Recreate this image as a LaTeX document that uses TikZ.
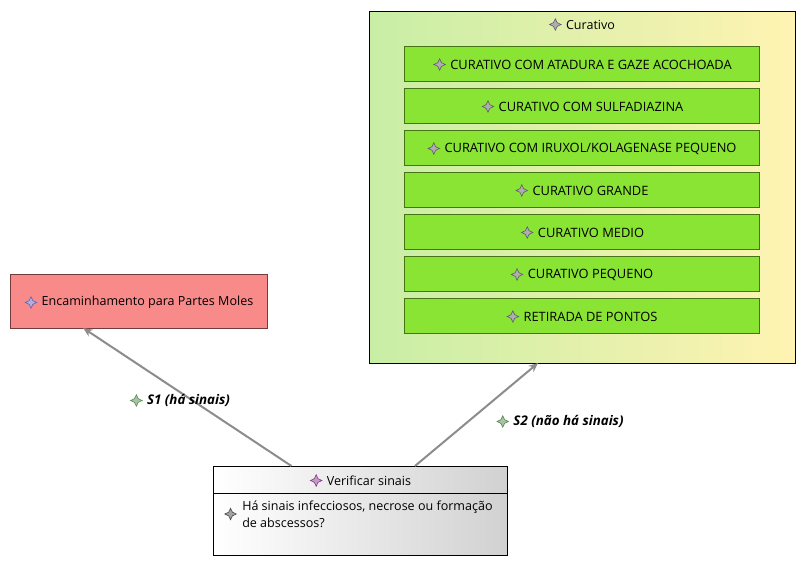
\documentclass[tikz,border=0pt]{standalone}
\usepackage{fontspec}
\setmainfont{Open Sans}
\usetikzlibrary{positioning,shapes.geometric,shadows,calc,arrows.meta}
\def\px{0.75pt}
\definecolor{itemgreen}{RGB}{138,228,52}
\definecolor{itemedge}{RGB}{70,115,20}
\definecolor{cureleft}{RGB}{200,238,165}
\definecolor{cureright}{RGB}{255,243,178}
\definecolor{redfill}{RGB}{248,138,138}
\definecolor{rededge}{RGB}{115,60,60}
\definecolor{arrowgray}{RGB}{140,140,140}
\definecolor{icongray}{RGB}{95,90,105}
\definecolor{iconblue}{RGB}{95,95,190}
\definecolor{iconviolet}{RGB}{135,55,135}
\definecolor{icondark}{RGB}{70,70,70}
\definecolor{icongreen}{RGB}{85,135,80}
\begin{document}
\begin{tikzpicture}[
    x=\px, y=-\px,
    mybox/.style={rectangle, draw, line width=1*\px, inner sep=0pt, outer sep=0pt,
        drop shadow={shadow xshift=1*\px, shadow yshift=-1.2*\px, fill=black!55, opacity=1}},
    myitem/.style={mybox, draw=itemedge, fill=itemgreen, minimum width=355*\px, minimum height=35*\px,
        drop shadow={shadow xshift=1*\px, shadow yshift=-1.2*\px, fill=itemedge, opacity=1}},
    mylabel/.style={font=\fontsize{9.4pt}{12.75pt}\selectfont, inner sep=0pt, align=left},
    mycaps/.style={font=\fontsize{9.65pt}{12.75pt}\selectfont, inner sep=0pt},
    myedgelabel/.style={inner sep=0pt, font=\fontsize{10pt}{12pt}\selectfont\bfseries\itshape},
    myicon/.style={star, star points=4, star point ratio=2.2, minimum size=11.5*\px, inner sep=0pt,
        draw=#1, fill=#1!50!white, line width=0.6*\px},
    myedge/.style={-{Stealth[length=7pt,width=6pt]}, draw=arrowgray, line width=2*\px}
]
    \useasboundingbox (0,0) rectangle (807,568);

    % Outer group with its items
    \node[mybox, left color=cureleft, right color=cureright, minimum width=426*\px, minimum height=352*\px] (Curativo) at (582,187) {};
    \node[myitem] (Item1) at (581.5,63.5) {};
    \node[myitem] (Item2) at (581.5,105.5) {};
    \node[myitem] (Item3) at (581.5,147.5) {};
    \node[myitem] (Item4) at (581.5,189.5) {};
    \node[myitem] (Item5) at (581.5,231.5) {};
    \node[myitem] (Item6) at (581.5,273.5) {};
    \node[myitem] (Item7) at (581.5,315.5) {};

    \node[mylabel] (CurativoText) at (590.5,24.5) {Curativo};
    \node[mycaps] (Text1) at (591,64.5) {CURATIVO COM ATADURA E GAZE ACOCHOADA};
    \node[mycaps] (Text2) at (591,106.5) {CURATIVO COM SULFADIAZINA};
    \node[mycaps] (Text3) at (590.5,148.5) {CURATIVO COM IRUXOL/KOLAGENASE PEQUENO};
    \node[mycaps] (Text4) at (590.5,190.5) {CURATIVO GRANDE};
    \node[mycaps] (Text5) at (591,232.5) {CURATIVO MEDIO};
    \node[mycaps] (Text6) at (590.5,274.5) {CURATIVO PEQUENO};
    \node[mycaps] (Text7) at (590.5,316.5) {RETIRADA DE PONTOS};

    \node[myicon=icongray, left=4*\px of CurativoText] (IconCurativo) {};
    \node[myicon=icongray, left=4*\px of Text1] (Icon1) {};
    \node[myicon=icongray, left=4*\px of Text2] (Icon2) {};
    \node[myicon=icongray, left=4*\px of Text3] (Icon3) {};
    \node[myicon=icongray, left=4*\px of Text4] (Icon4) {};
    \node[myicon=icongray, left=4*\px of Text5] (Icon5) {};
    \node[myicon=icongray, left=4*\px of Text6] (Icon6) {};
    \node[myicon=icongray, left=4*\px of Text7] (Icon7) {};

    % Left target
    \node[mybox, draw=rededge, fill=redfill, minimum width=257*\px, minimum height=54*\px,
        drop shadow={shadow xshift=1*\px, shadow yshift=-1.2*\px, fill=rededge, opacity=1}] (Encaminhamento) at (138.5,301) {};
    \node[mylabel] (EncaminhamentoText) at (147.5,302.5) {Encaminhamento para Partes Moles};
    \node[myicon=iconblue, left=4*\px of EncaminhamentoText] (IconEncaminhamento) {};

    % Decision box
    \node[mybox, left color=white, right color=black!18, minimum width=294*\px, minimum height=89*\px] (Verificar) at (360,510.5) {};
    \draw[line width=1*\px] ($(Verificar.north west)+(0,27)$) -- ($(Verificar.north east)+(0,27)$);
    \node[mylabel] (VerificarText) at (369,480.5) {Verificar sinais};
    \node[myicon=iconviolet, left=4*\px of VerificarText] (IconVerificar) {};
    \node[mylabel, anchor=west] (Pergunta) at (242,514) {Há sinais infecciosos, necrose ou formação\\de abscessos?};
    \node[myicon=icondark, left=5*\px of Pergunta] (IconPergunta) {};

    % Transitions
    \draw[myedge] (Verificar.147.5) -- (Encaminhamento.206.4);
    \draw[myedge] (Verificar.39.5) -- (Curativo.256);

    \node[myedgelabel] (S1) at (188.5,400.5) {S1 (há sinais)};
    \node[myicon=icongreen, left=4*\px of S1] (IconS1) {};
    \node[myedgelabel] (S2) at (568.5,421.5) {S2 (não há sinais)};
    \node[myicon=icongreen, left=4*\px of S2] (IconS2) {};
\end{tikzpicture}
\end{document}
